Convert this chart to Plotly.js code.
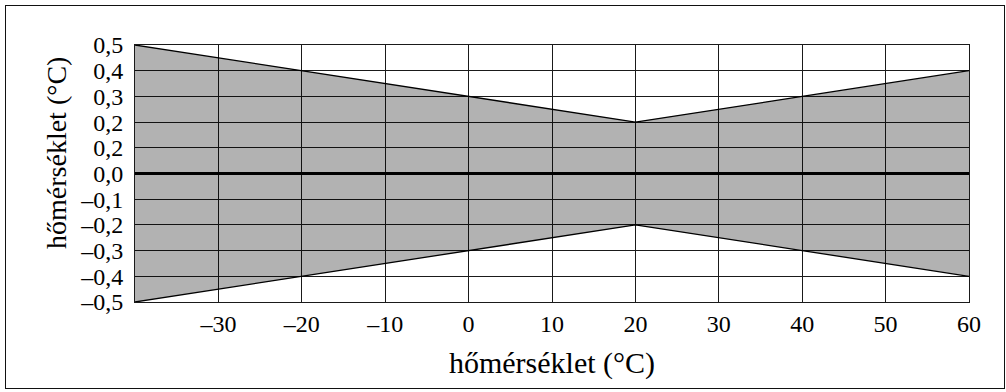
<!DOCTYPE html>
<html>
<head>
<meta charset="utf-8">
<script src="https://cdn.plot.ly/plotly-3.0.1.min.js"></script>
<style>
  html, body { margin: 0; padding: 0; background: #fff; }
  #wrap { position: relative; width: 1006px; height: 392px; }
  #chart { position: absolute; left: 0; top: 0; width: 1006px; height: 392px; }
  #frame { position: absolute; left: 5px; top: 5px; width: 1000px; height: 384px;
           border: 1.5px solid #111; box-sizing: border-box; pointer-events: none; }
  #chart svg text { font-family: "Liberation Serif", "Times New Roman", "DejaVu Serif", serif !important; }
</style>
</head>
<body>
<div id="wrap">
  <div id="chart"></div>
  <div id="frame"></div>
</div>
<script>
// Data
const temps = [-40, -20, 0, 20, 40, 60];
const upperLimit = [0.5, 0.4, 0.3, 0.2, 0.3, 0.4];
const lowerLimit = [-0.5, -0.4, -0.3, -0.2, -0.3, -0.4];

const xTickVals = [-30, -20, -10, 0, 10, 20, 30, 40, 50, 60];
const xTickText = ['–30', '–20', '–10', '0', '10', '20', '30', '40', '50', '60'];
const yTickVals = [0.5, 0.4, 0.3, 0.2, 0.1, 0.0, -0.1, -0.2, -0.3, -0.4, -0.5];
const yTickText = ['0,5', '0,4', '0,3', '0,2', '0,2', '0,0', '–0,1', '–0,2', '–0,3', '–0,4', '–0,5'];

const xTitle = 'hőmérséklet (°C)';
const yTitle = 'hőmérséklet (°C)';

const serifFont = 'Liberation Serif, Times New Roman, serif';

const traces = [
  {
    x: temps, y: lowerLimit, type: 'scatter', mode: 'lines',
    line: { color: '#000', width: 1.3 }, hoverinfo: 'skip', showlegend: false
  },
  {
    x: temps, y: upperLimit, type: 'scatter', mode: 'lines',
    fill: 'tonexty', fillcolor: 'rgba(0,0,0,0.30)',
    line: { color: '#000', width: 1.3 }, hoverinfo: 'skip', showlegend: false
  }
];

const layout = {
  width: 1006, height: 392,
  margin: { l: 135, r: 37, t: 45, b: 90, pad: 0 },
  paper_bgcolor: '#fff', plot_bgcolor: '#fff',
  font: { family: serifFont, color: '#000', size: 24 },
  showlegend: false,
  xaxis: {
    range: [-40, 60], tickvals: xTickVals, ticktext: xTickText,
    showgrid: true, gridcolor: '#1a1a1a', gridwidth: 1,
    zeroline: false, showline: true, mirror: true, linecolor: '#1a1a1a', linewidth: 1,
    ticks: '', tickfont: { family: serifFont, size: 24, color: '#000' },
    ticklabelstandoff: 0,
    title: { text: xTitle, font: { family: serifFont, size: 30, color: '#000' }, standoff: 16 },
    fixedrange: true
  },
  yaxis: {
    range: [-0.5, 0.5], tickvals: yTickVals, ticktext: yTickText,
    showgrid: true, gridcolor: '#1a1a1a', gridwidth: 1,
    zeroline: true, zerolinecolor: '#000', zerolinewidth: 3.5,
    showline: true, mirror: true, linecolor: '#1a1a1a', linewidth: 1,
    ticks: '', tickfont: { family: serifFont, size: 24, color: '#000' },
    ticklabelstandoff: 6,
    fixedrange: true
  },
  annotations: [
    {
      text: yTitle, textangle: -90, showarrow: false,
      xref: 'paper', yref: 'paper', x: 0, y: 0.58,
      xanchor: 'center', yanchor: 'middle', xshift: -78,
      font: { family: serifFont, size: 28, color: '#000' }
    }
  ]
};

Plotly.newPlot('chart', traces, layout, { displayModeBar: false, staticPlot: true });
</script>
</body>
</html>
